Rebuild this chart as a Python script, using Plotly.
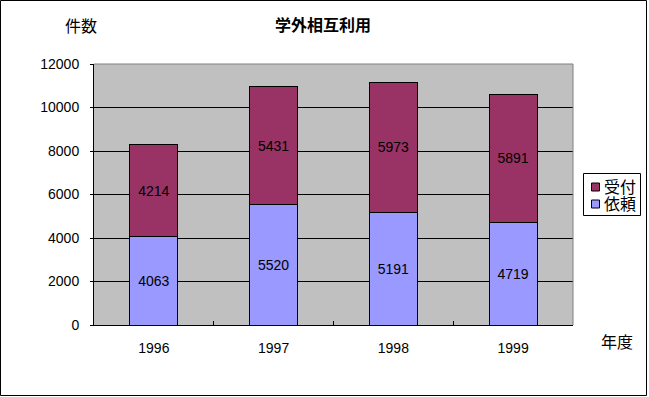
import plotly.graph_objects as go

years = ["1996", "1997", "1998", "1999"]
irai = [4063, 5520, 5191, 4719]      # 依頼
uketsuke = [4214, 5431, 5973, 5891]  # 受付
y_ticks = [0, 2000, 4000, 6000, 8000, 10000, 12000]
series_names = ["受付", "依頼"]
series_colors = ["#993366", "#9999FF"]

W, H = 649, 397
L, R, T, B = 94, 76, 64, 72
PW, PH = W - L - R, H - T - B

def px_x(px):
    return (px - L) / PW

def px_y(py):
    return (H - B - py) / PH

FONT = "Liberation Sans, Noto Sans CJK JP, sans-serif"

fig = go.Figure()
fig.add_trace(go.Bar(
    x=years, y=irai, name="依頼",
    marker=dict(color="#9999FF", line=dict(color="black", width=1)),
    text=[str(v) for v in irai], textposition="inside", insidetextanchor="middle",
    textangle=0, textfont=dict(color="black", size=14, family=FONT),
))
fig.add_trace(go.Bar(
    x=years, y=uketsuke, name="受付",
    marker=dict(color="#993366", line=dict(color="black", width=1)),
    text=[str(v) for v in uketsuke], textposition="inside", insidetextanchor="middle",
    textangle=0, textfont=dict(color="black", size=14, family=FONT),
))

fig.update_layout(
    width=W, height=H,
    margin=dict(l=L, r=R, t=T, b=B, pad=0, autoexpand=False),
    barmode="stack", bargap=0.6,
    paper_bgcolor="white", plot_bgcolor="#C0C0C0",
    font=dict(family=FONT, size=14, color="black"),
    showlegend=False,
    xaxis=dict(
        showline=True, linecolor="black", linewidth=1,
        ticks="inside", tickson="boundaries", ticklen=4, tickcolor="black",
        showgrid=False, ticklabelstandoff=10, automargin=False,
        tickfont=dict(size=14),
    ),
    yaxis=dict(
        range=[0, 12000], tickvals=y_ticks, ticktext=[str(v) for v in y_ticks],
        showline=True, linecolor="black", linewidth=1,
        showgrid=True, gridcolor="black", gridwidth=1,
        ticks="outside", ticklen=3, tickcolor="black",
        ticklabelstandoff=8, zeroline=False, automargin=False,
        tickfont=dict(size=14),
    ),
    uniformtext=dict(minsize=14, mode="show"),
)

# plot area top/right border (gray)
fig.add_shape(type="line", xref="paper", yref="paper", x0=0, x1=1, y0=1, y1=1,
              line=dict(color="#808080", width=1))
fig.add_shape(type="line", xref="paper", yref="paper", x0=1, x1=1, y0=0, y1=1,
              line=dict(color="#808080", width=1))
# chart border
fig.add_shape(type="rect", xref="paper", yref="paper",
              x0=px_x(0.5), x1=px_x(646.5), y0=px_y(395.5), y1=px_y(0.5),
              line=dict(color="black", width=1), fillcolor="rgba(0,0,0,0)")

# custom legend
fig.add_shape(type="rect", xref="paper", yref="paper",
              x0=px_x(583.5), x1=px_x(640.5), y0=px_y(215.5), y1=px_y(173.5),
              line=dict(color="black", width=1), fillcolor="white")
for i, (nm, col) in enumerate(zip(series_names, series_colors)):
    cy = 187 + i * 17
    fig.add_shape(type="rect", xref="paper", yref="paper",
                  x0=px_x(591.5), x1=px_x(599.5), y0=px_y(cy + 4), y1=px_y(cy - 4),
                  line=dict(color="black", width=1), fillcolor=col)
    fig.add_annotation(text=nm, xref="paper", yref="paper",
                       x=px_x(602), y=px_y(cy), xanchor="left", yanchor="middle",
                       showarrow=False, font=dict(size=16, family=FONT, color="black"))

def label(txt, x, y, size=16):
    fig.add_annotation(text=txt, xref="paper", yref="paper",
                       x=px_x(x), y=px_y(y), xanchor="center", yanchor="middle",
                       showarrow=False, font=dict(size=size, family=FONT, color="black"))

label("<b>学外相互利用</b>", 323, 25)
label("件数", 81, 27)
label("年度", 617, 342)

fig.write_html("out.html")
